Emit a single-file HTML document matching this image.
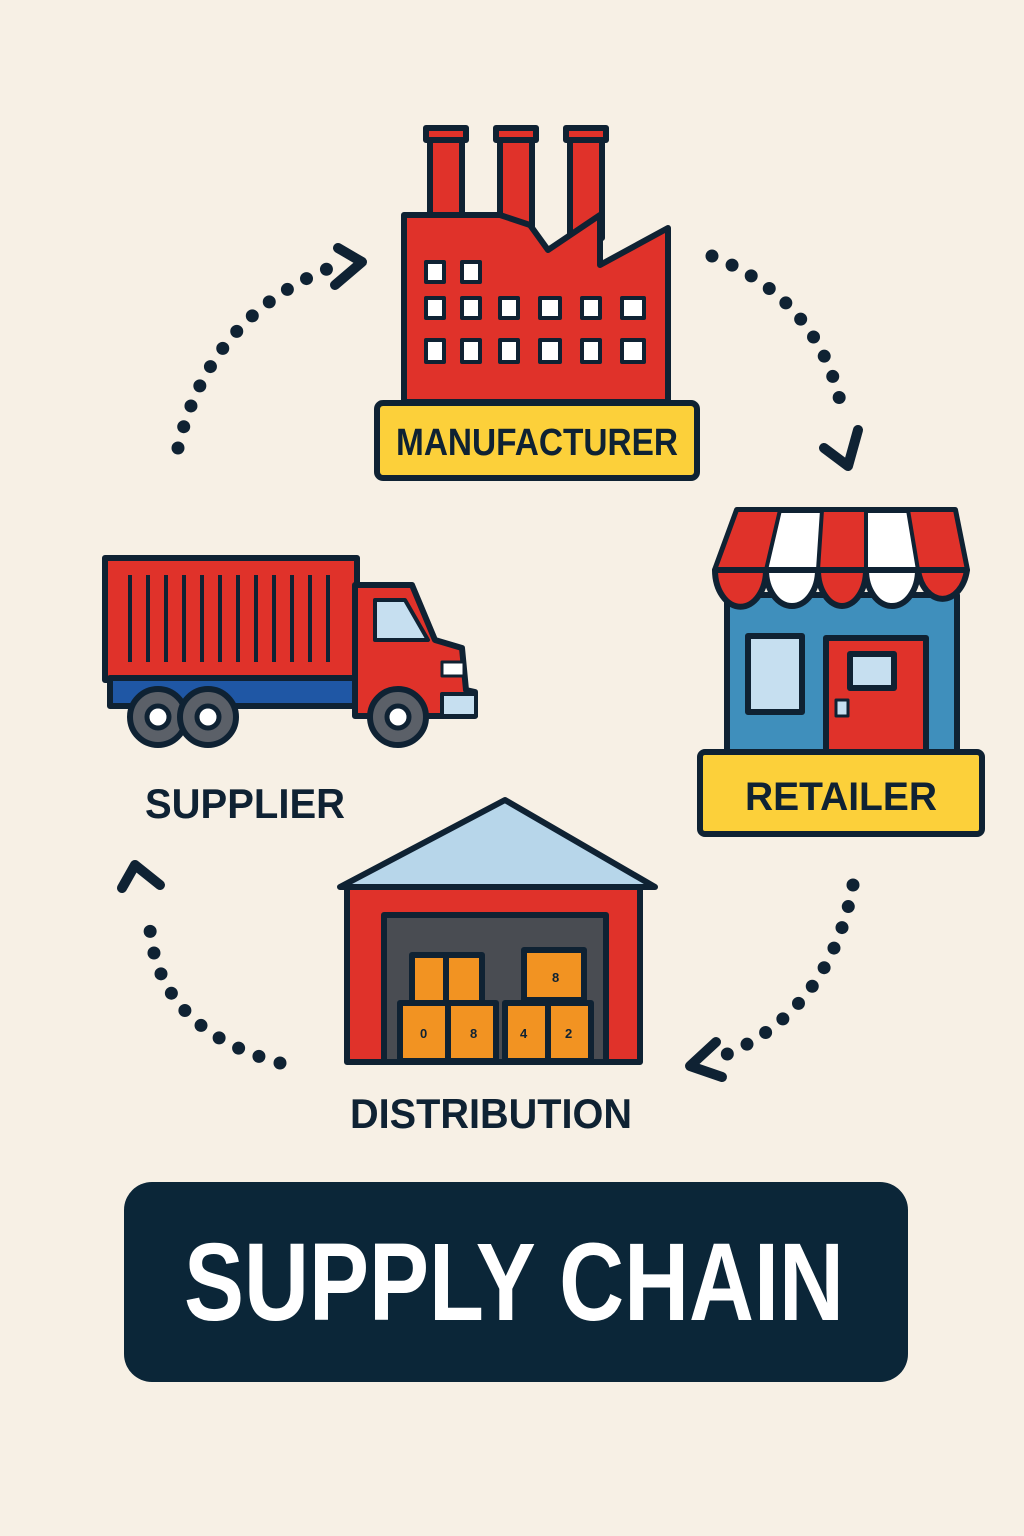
<!DOCTYPE html>
<html><head><meta charset="utf-8"><style>
html,body{margin:0;padding:0;background:#f7f0e5;}
svg{display:block}
text{font-family:"Liberation Sans",sans-serif;font-weight:bold;fill:#0f2233}
</style></head><body>
<svg width="1024" height="1536" viewBox="0 0 1024 1536">
<rect width="1024" height="1536" fill="#f7f0e5"/>
<g fill="none" stroke="#0f2233" stroke-linecap="round">
<path d="M178,448 Q210,310 345,262" stroke-width="13" stroke-dasharray="0 22"/>
<path d="M335,285 L362,262 L338,248" stroke-width="10" stroke-linejoin="round"/>
<path d="M712,256 Q820,300 842,410" stroke-width="13" stroke-dasharray="0 22"/>
<path d="M824,448 L848,466 L858,430" stroke-width="10" stroke-linejoin="round"/>
<path d="M853,885 Q830,1010 725,1055" stroke-width="13" stroke-dasharray="0 22"/>
<path d="M716,1042 L690,1066 L722,1077" stroke-width="10" stroke-linejoin="round"/>
<path d="M280,1063 Q160,1030 150,930" stroke-width="13" stroke-dasharray="0 22"/>
<path d="M122,888 L135,865 L160,885" stroke-width="10" stroke-linejoin="round"/>
</g>
<g stroke="#0f2233" stroke-width="6" stroke-linejoin="round">
<rect x="430" y="128" width="32" height="110" fill="#e0322a"/>
<rect x="500" y="128" width="32" height="110" fill="#e0322a"/>
<rect x="570" y="128" width="32" height="110" fill="#e0322a"/>
<rect x="426" y="128" width="40" height="12" fill="#e0322a"/>
<rect x="496" y="128" width="40" height="12" fill="#e0322a"/>
<rect x="566" y="128" width="40" height="12" fill="#e0322a"/>
<path d="M404,215 L500,215 L530,225 L548,250 L600,215 L600,265 L668,228 L668,402 L404,402 Z" fill="#e0322a"/>
<g fill="#fff" stroke-width="4">
<rect x="426" y="262" width="18" height="20"/><rect x="462" y="262" width="18" height="20"/>
<rect x="426" y="298" width="18" height="20"/><rect x="462" y="298" width="18" height="20"/><rect x="500" y="298" width="18" height="20"/><rect x="540" y="298" width="20" height="20"/><rect x="582" y="298" width="18" height="20"/><rect x="622" y="298" width="22" height="20"/>
<rect x="426" y="340" width="18" height="22"/><rect x="462" y="340" width="18" height="22"/><rect x="500" y="340" width="18" height="22"/><rect x="540" y="340" width="20" height="22"/><rect x="582" y="340" width="18" height="22"/><rect x="622" y="340" width="22" height="22"/>
</g>
<rect x="377" y="403" width="320" height="75" rx="6" fill="#fcd03a"/>
<rect x="105" y="558" width="252" height="122" fill="#e0322a"/>
<g stroke-width="4">
<line x1="130" y1="575" x2="130" y2="662"/><line x1="148" y1="575" x2="148" y2="662"/><line x1="166" y1="575" x2="166" y2="662"/><line x1="184" y1="575" x2="184" y2="662"/><line x1="202" y1="575" x2="202" y2="662"/><line x1="220" y1="575" x2="220" y2="662"/><line x1="238" y1="575" x2="238" y2="662"/><line x1="256" y1="575" x2="256" y2="662"/><line x1="274" y1="575" x2="274" y2="662"/><line x1="292" y1="575" x2="292" y2="662"/><line x1="310" y1="575" x2="310" y2="662"/><line x1="328" y1="575" x2="328" y2="662"/>
</g>
<rect x="110" y="678" width="250" height="28" fill="#1f57a5"/>
<path d="M355,585 L412,585 L435,640 L462,648 L466,690 L475,692 L475,716 L355,716 Z" fill="#e0322a"/>
<path d="M375,600 L405,600 L428,640 L375,640 Z" fill="#c6dff0" stroke-width="4"/>
<rect x="442" y="662" width="22" height="14" fill="#fff" stroke-width="3"/>
<rect x="442" y="694" width="34" height="22" fill="#c6dff0" stroke-width="4"/>
<g fill="#5b6068"><circle cx="158" cy="717" r="28"/><circle cx="208" cy="717" r="28"/><circle cx="398" cy="717" r="28"/></g>
<g fill="#fff" stroke-width="5"><circle cx="158" cy="717" r="11"/><circle cx="208" cy="717" r="11"/><circle cx="398" cy="717" r="11"/></g>
<rect x="727" y="595" width="230" height="160" fill="#3f8fbc"/>
<path d="M737,510 L955,510 L967,570 L715,570 Z" fill="#fff"/>
<path d="M737,510 L780,510 L766,570 L715,570 Z M822,510 L866,510 L866,570 L818,570 Z M908,510 L955,510 L967,570 L918,570 Z" fill="#e0322a" stroke-width="4"/>
<path d="M715,570 a25,36 0 0 0 51,0 Z M818,570 a24,36 0 0 0 48,0 Z M918,570 a25,36 0 0 0 49,0 Z" fill="#e0322a"/>
<path d="M766,570 a26,36 0 0 0 52,0 Z M866,570 a26,36 0 0 0 52,0 Z" fill="#fff"/>
<rect x="748" y="636" width="54" height="76" fill="#c6dff0"/>
<rect x="826" y="638" width="100" height="114" fill="#e0322a"/>
<rect x="850" y="654" width="44" height="34" fill="#c6dff0"/>
<rect x="836" y="700" width="12" height="16" fill="#c6dff0" stroke-width="3"/>
<rect x="700" y="752" width="282" height="82" rx="5" fill="#fcd03a"/>
<rect x="347" y="885" width="293" height="177" fill="#e0322a"/>
<path d="M340,887 L505,800 L655,887 Z" fill="#b7d6ea"/>
<rect x="384" y="915" width="222" height="147" fill="#494c52"/>
<g fill="#f29322" stroke-width="6">
<rect x="412" y="955" width="70" height="48"/><line x1="446" y1="955" x2="446" y2="1003"/>
<rect x="524" y="950" width="60" height="50"/>
<rect x="400" y="1003" width="96" height="58"/><line x1="448" y1="1003" x2="448" y2="1061"/>
<rect x="505" y="1003" width="86" height="58"/><line x1="548" y1="1003" x2="548" y2="1061"/>
</g>
</g>
<g font-size="13">
<text x="552" y="982">8</text><text x="420" y="1038">0</text><text x="470" y="1038">8</text><text x="520" y="1038">4</text><text x="565" y="1038">2</text>
</g>
<text x="537" y="455" font-size="38" text-anchor="middle" textLength="282" lengthAdjust="spacingAndGlyphs">MANUFACTURER</text>
<text x="841" y="810" font-size="40" text-anchor="middle" textLength="192" lengthAdjust="spacingAndGlyphs">RETAILER</text>
<text x="245" y="818" font-size="42" text-anchor="middle" textLength="200" lengthAdjust="spacingAndGlyphs">SUPPLIER</text>
<text x="491" y="1128" font-size="42" text-anchor="middle" textLength="282" lengthAdjust="spacingAndGlyphs">DISTRIBUTION</text>
<rect x="124" y="1182" width="784" height="200" rx="28" fill="#0b2638"/>
<text x="514" y="1320" font-size="110" text-anchor="middle" textLength="660" lengthAdjust="spacingAndGlyphs" style="fill:#fff">SUPPLY CHAIN</text>
</svg>
</body></html>
